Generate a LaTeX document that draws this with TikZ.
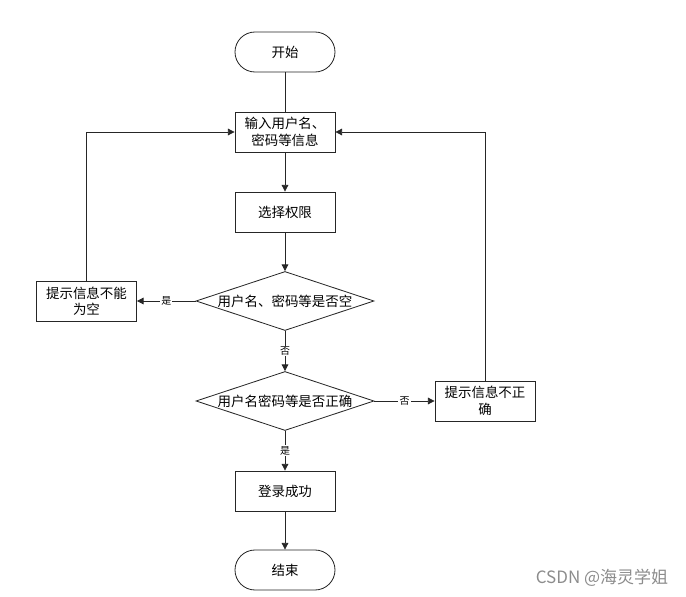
\documentclass[tikz,border=0pt]{standalone}
\usepackage{fontspec}
\setmainfont{Noto Sans CJK SC}
\usetikzlibrary{arrows.meta, positioning, calc, shapes.geometric}

\begin{document}
\begin{tikzpicture}[x=0.03cm, y=-0.03cm, >={Triangle[length=2mm, width=2mm]},
    every node/.style={font=\fontsize{11.5}{14}\selectfont},
    box/.style={draw=black!85, line width=0.7pt, minimum width=3cm, minimum height=1.2cm, align=center, inner sep=1pt},
    term/.style={box, rounded corners=0.6cm},
    decision/.style={draw=black!85, line width=0.7pt, diamond, aspect=3, inner sep=0pt, minimum width=5.34cm, minimum height=1.77cm},
    flow/.style={draw=black!85, line width=0.7pt, ->},
    lbl/.style={fill=white, inner sep=1pt, font=\fontsize{8.5}{10}\selectfont}]
    \useasboundingbox (0,0) rectangle (686,597);

    % main column
    \node[term] (start) at (285,52) {开始};
    \node[box] (input) at (285,132) {输入用户名、\\密码等信息};
    \node[box] (role) at (285,212) {选择权限};
    \node[decision] (empty) at (285,301) {用户名、密码等是否空};
    \node[decision] (check) at (285,401) {用户名密码等是否正确};
    \node[box] (ok) at (285,491) {登录成功};
    \node[term] (stop) at (285,570) {结束};

    % side boxes
    \node[box] (warnempty) at (86.5,301) {提示信息不能\\为空};
    \node[box] (warnwrong) at (485,401) {提示信息不正\\确};

    \draw[flow, -] (start) -- (input);
    \draw[flow] (input) -- (role);
    \draw[flow] (role) -- (empty);
    \draw[flow] (empty) -- node[lbl] {是} (warnempty);
    \draw[flow] (empty) -- node[lbl] {否} (check);
    \draw[flow] (check) -- node[lbl] {否} (warnwrong);
    \draw[flow] (check) -- node[lbl] {是} (ok);
    \draw[flow] (ok) -- (stop);

    % back to input
    \draw[flow] (warnempty.north) |- (input.west);
    \draw[flow] (warnwrong.north) |- (input.east);

    \node[text=black!45, font=\fontsize{14.5}{16}\selectfont] (mark) at (602,578) {CSDN @海灵学姐};
\end{tikzpicture}
\end{document}
